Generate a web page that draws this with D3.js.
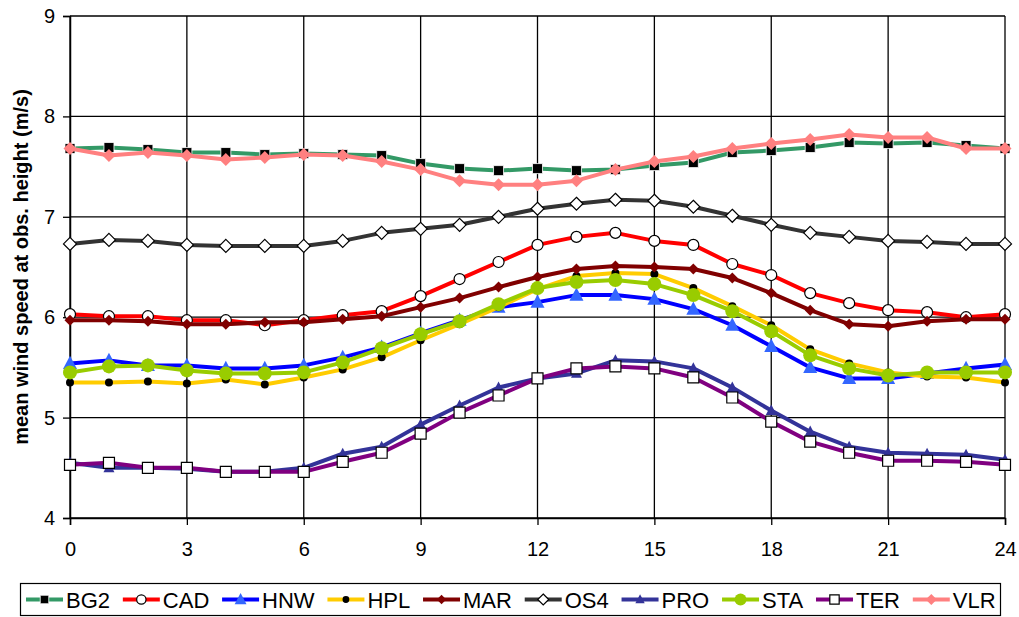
<!DOCTYPE html>
<html>
<head>
<meta charset="utf-8">
<script src="https://cdn.jsdelivr.net/npm/d3@7"></script>
<style>
  html, body { margin: 0; padding: 0; background: #fff; }
  svg { display: block; font-family: "Liberation Sans", Arial, sans-serif; }
</style>
</head>
<body>
<svg id="chart" width="1019" height="617"></svg>
<script>
// ---- data ----
const hours = [0,1,2,3,4,5,6,7,8,9,10,11,12,13,14,15,16,17,18,19,20,21,22,23,24];
const xTicks = [0,3,6,9,12,15,18,21,24];
const yTicks = [4,5,6,7,8,9];
const seriesNames = ["BG2","CAD","HNW","HPL","MAR","OS4","PRO","STA","TER","VLR"];

const BG2 = [7.68,7.69,7.67,7.64,7.64,7.62,7.63,7.62,7.61,7.53,7.48,7.46,7.48,7.46,7.47,7.51,7.54,7.64,7.66,7.69,7.74,7.73,7.74,7.71,7.68];
const CAD = [6.03,6.01,6.01,5.97,5.97,5.92,5.97,6.02,6.06,6.21,6.38,6.55,6.72,6.80,6.84,6.76,6.72,6.53,6.42,6.24,6.14,6.07,6.05,6.00,6.03];
const HNW = [5.54,5.57,5.52,5.52,5.49,5.49,5.52,5.60,5.70,5.84,5.97,6.10,6.15,6.22,6.22,6.18,6.08,5.92,5.71,5.50,5.39,5.39,5.44,5.49,5.53];
const HPL = [5.35,5.35,5.36,5.34,5.38,5.33,5.40,5.48,5.60,5.77,5.93,6.10,6.28,6.41,6.44,6.43,6.29,6.11,5.92,5.68,5.54,5.45,5.41,5.40,5.35];
const MAR = [5.97,5.97,5.96,5.93,5.93,5.95,5.95,5.98,6.01,6.10,6.19,6.30,6.40,6.48,6.51,6.50,6.48,6.39,6.24,6.07,5.93,5.91,5.96,5.98,5.98];
const OS4 = [6.73,6.77,6.76,6.72,6.71,6.71,6.71,6.76,6.84,6.88,6.92,7.00,7.08,7.13,7.17,7.16,7.10,7.01,6.92,6.84,6.80,6.76,6.75,6.73,6.73];
const PRO = [4.55,4.50,4.50,4.49,4.46,4.46,4.50,4.64,4.71,4.93,5.12,5.30,5.39,5.44,5.57,5.56,5.49,5.30,5.07,4.86,4.71,4.65,4.64,4.63,4.58];
const STA = [5.45,5.51,5.52,5.47,5.44,5.44,5.45,5.55,5.69,5.83,5.96,6.13,6.29,6.35,6.37,6.33,6.22,6.06,5.86,5.62,5.49,5.42,5.45,5.45,5.45];
const TER = [4.53,4.55,4.50,4.50,4.46,4.46,4.46,4.56,4.65,4.84,5.05,5.22,5.39,5.49,5.51,5.49,5.40,5.20,4.96,4.76,4.65,4.57,4.57,4.56,4.53];
const VLR = [7.68,7.61,7.64,7.61,7.57,7.59,7.62,7.61,7.55,7.47,7.36,7.32,7.32,7.36,7.47,7.55,7.60,7.68,7.73,7.77,7.82,7.79,7.79,7.68,7.68];

const yTitle = "mean wind speed at obs. height (m/s)";

// ---- styles ----
const styles = {
  BG2: {line:"#339966", shape:"square",   size:10, fill:"#000000", stroke:"#ffffff", sw:0.8},
  CAD: {line:"#ff0000", shape:"circle",   size:11, fill:"#ffffff", stroke:"#000000", sw:1.2},
  HNW: {line:"#0000ff", shape:"triangle", size:14, fill:"#3366ff", stroke:"none",    sw:0},
  HPL: {line:"#ffcc00", shape:"circle",   size:8,  fill:"#000000", stroke:"none",    sw:0},
  MAR: {line:"#800000", shape:"diamond",  size:11, fill:"#800000", stroke:"none",    sw:0},
  OS4: {line:"#333333", shape:"diamond",  size:13, fill:"#ffffff", stroke:"#000000", sw:1.2},
  PRO: {line:"#333399", shape:"triangle", size:11, fill:"#333399", stroke:"none",    sw:0},
  STA: {line:"#99cc00", shape:"circle",   size:14, fill:"#99cc00", stroke:"none",    sw:0},
  TER: {line:"#800080", shape:"square",   size:11, fill:"#ffffff", stroke:"#000000", sw:1.2},
  VLR: {line:"#ff8080", shape:"diamond",  size:13, fill:"#ff8080", stroke:"none",    sw:0}
};
const dataBy = {BG2, CAD, HNW, HPL, MAR, OS4, PRO, STA, TER, VLR};

function markerPath(shape, s) {
  const h = s / 2;
  if (shape === "square") return `M${-h},${-h}h${s}v${s}h${-s}Z`;
  if (shape === "diamond") return `M0,${-h}L${h},0L0,${h}L${-h},0Z`;
  if (shape === "triangle") return `M0,${-s*0.55}L${h},${s*0.4}L${-h},${s*0.4}Z`;
  return `M${h},0A${h},${h} 0 1,1 ${-h},0A${h},${h} 0 1,1 ${h},0Z`;
}

// ---- layout ----
const svg = d3.select("#chart");
const L = 70, R = 1005, T = 16, B = 518;
const x = d3.scaleLinear().domain([0, 24]).range([L, R]);
const y = d3.scaleLinear().domain([4, 9]).range([B, T]);

// gridlines
const grid = svg.append("g");
grid.selectAll("line.h").data(yTicks).join("line")
  .attr("x1", L).attr("x2", R)
  .attr("y1", d => y(d)).attr("y2", d => y(d))
  .attr("stroke", "#000").attr("stroke-width", 1.3);
grid.selectAll("line.v").data(xTicks).join("line")
  .attr("x1", d => x(d)).attr("x2", d => x(d))
  .attr("y1", T).attr("y2", B)
  .attr("stroke", "#000").attr("stroke-width", 1.3);

// axes
const yAxis = svg.append("g").attr("transform", `translate(${L},0)`)
  .call(d3.axisLeft(y).tickValues(yTicks).tickSize(7).tickPadding(8).tickFormat(d3.format("d")));
const xAxis = svg.append("g").attr("transform", `translate(0,${B})`)
  .call(d3.axisBottom(x).tickValues(xTicks).tickSize(7).tickPadding(17).tickFormat(d3.format("d")));
[yAxis, xAxis].forEach(a => {
  a.select(".domain").attr("stroke", "#000").attr("stroke-width", 1.5);
  a.selectAll(".tick line").attr("stroke", "#000").attr("stroke-width", 1.3);
  a.selectAll("text").attr("fill", "#000").style("font-size", "20px")
    .style("font-family", '"Liberation Sans", Arial, sans-serif');
});

// y title
svg.append("text")
  .attr("transform", `translate(28,${(T + B) / 2}) rotate(-90)`)
  .attr("text-anchor", "middle")
  .style("font-size", "20px").style("font-weight", "bold")
  .text(yTitle);

// series
const line = d3.line().x((d, i) => x(hours[i])).y(d => y(d));
const plot = svg.append("g");
seriesNames.forEach(name => {
  const st = styles[name];
  const vals = dataBy[name];
  const g = plot.append("g");
  g.append("path").attr("d", line(vals))
    .attr("fill", "none").attr("stroke", st.line).attr("stroke-width", 4)
    .attr("stroke-linejoin", "round");
  g.selectAll("path.m").data(vals).join("path")
    .attr("class", "m")
    .attr("d", markerPath(st.shape, st.size))
    .attr("transform", (d, i) => `translate(${x(hours[i])},${y(d)})`)
    .attr("fill", st.fill).attr("stroke", st.stroke).attr("stroke-width", st.sw);
});

// legend
const lg = svg.append("g");
lg.append("rect").attr("x", 20.5).attr("y", 583.5).attr("width", 980).attr("height", 32)
  .attr("fill", "#fff").attr("stroke", "#000").attr("stroke-width", 1.2);
let cx = 26;
const ly = 599.5;
seriesNames.forEach(name => {
  const st = styles[name];
  const g = lg.append("g");
  g.append("line").attr("x1", cx).attr("x2", cx + 37).attr("y1", ly).attr("y2", ly)
    .attr("stroke", st.line).attr("stroke-width", 4);
  g.append("path").attr("d", markerPath(st.shape, st.size * 0.85))
    .attr("transform", `translate(${cx + 18.5},${ly})`)
    .attr("fill", st.fill).attr("stroke", st.stroke).attr("stroke-width", st.sw);
  const t = g.append("text").attr("x", cx + 40).attr("y", ly + 8)
    .style("font-size", "22px").text(name);
  const w = t.node().getComputedTextLength();
  cx += 40 + w + 12.8;
});
</script>
</body>
</html>
